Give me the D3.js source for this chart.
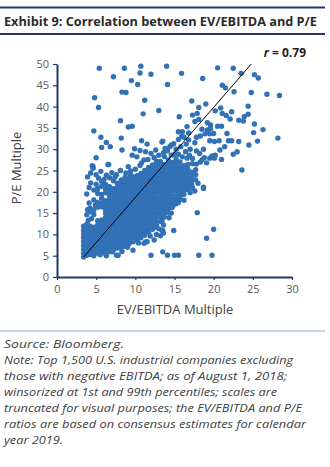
<!DOCTYPE html>
<html><head><meta charset="utf-8">
<script src="https://cdn.jsdelivr.net/npm/d3@7"></script>
<style>
html,body{margin:0;padding:0;background:#fff;}
svg{display:block;}
</style></head>
<body>
<script>
// ---- data ----
const title = "Exhibit 9: Correlation between EV/EBITDA and P/E";
const xTicks = [0, 5, 10, 15, 20, 25, 30];
const yTicks = [0, 5, 10, 15, 20, 25, 30, 35, 40, 45, 50];
const xLabel = "EV/EBITDA Multiple";
const yLabel = "P/E Multiple";
const rLabel = "0.79";
const fitLine = [[3.4, 4.7], [24.8, 50]];

// dense cloud, listed by EV/EBITDA column: [x, [P/E values]]
const denseCloud = [
  [3.4, [4.7, 5.6, 6.5, 7.4, 8.3, 9.2, 10.1, 11.0, 11.9]],
  [3.8, [5.1, 6.0, 7.0, 7.9, 8.8, 9.7, 10.6, 11.5, 12.4, 14.6]],
  [4.2, [5.3, 6.3, 7.2, 8.1, 9.1, 10.0, 11.0, 12.0, 15.3, 16.2]],
  [4.7, [5.0, 6.0, 6.9, 7.9, 8.8, 9.8, 10.7, 11.7, 14.7, 15.8, 18.1, 20.4]],
  [5.2, [5.6, 6.5, 7.5, 8.4, 9.4, 10.3, 11.3, 12.2, 13.2, 16.4, 17.5, 19.6, 20.8]],
  [5.7, [5.8, 6.8, 7.7, 8.7, 9.6, 10.6, 11.5, 12.5, 13.4, 16.5, 17.4, 18.5, 19.4, 21.3, 22.4]],
  [6.2, [5.4, 6.3, 7.3, 8.2, 9.2, 10.1, 11.1, 12.0, 13.0, 13.9, 14.9, 15.8, 16.9, 17.9, 19.8, 20.7, 21.7]],
  [6.7, [5.9, 6.9, 7.8, 8.8, 9.7, 10.7, 11.6, 12.6, 13.5, 14.5, 15.4, 16.4, 17.3, 18.3, 19.2, 20.2, 21.2, 23.3]],
  [7.2, [6.4, 7.4, 8.3, 9.3, 10.2, 11.2, 12.1, 13.1, 14.0, 15.0, 15.9, 16.9, 17.8, 18.8, 19.7, 20.7, 22.6]],
  [7.7, [6.8, 7.8, 8.7, 9.7, 10.6, 11.6, 12.5, 13.5, 14.4, 15.4, 16.3, 17.3, 18.2, 19.2, 20.1, 21.1, 22.0]],
  [8.2, [6.7, 7.6, 8.6, 9.5, 10.5, 11.4, 12.4, 13.3, 14.3, 15.2, 16.2, 17.1, 18.1, 19.0, 20.0, 20.9, 21.9, 22.8]],
  [8.7, [7.2, 8.2, 9.1, 10.1, 11.0, 12.0, 12.9, 13.9, 14.8, 15.8, 16.7, 17.7, 18.6, 19.6, 20.5, 21.5, 22.4, 23.4]],
  [9.2, [7.8, 8.7, 9.7, 10.6, 11.6, 12.5, 13.5, 14.4, 15.4, 16.3, 17.3, 18.2, 19.2, 20.1, 21.1, 22.0, 23.0]],
  [9.7, [8.3, 9.3, 10.2, 11.2, 12.1, 13.1, 14.0, 15.0, 15.9, 16.9, 17.8, 18.8, 19.7, 20.7, 21.6, 22.6, 23.5]],
  [10.2, [8.6, 9.6, 10.5, 11.5, 12.4, 13.4, 14.3, 15.3, 16.2, 17.2, 18.1, 19.1, 20.0, 21.0, 21.9, 22.9, 23.8]],
  [10.7, [9.2, 10.1, 11.1, 12.0, 13.0, 13.9, 14.9, 15.8, 16.8, 17.7, 18.7, 19.6, 20.6, 21.5, 22.5, 23.4, 24.3]],
  [11.2, [9.8, 10.8, 11.7, 12.7, 13.6, 14.6, 15.5, 16.5, 17.4, 18.4, 19.3, 20.3, 21.2, 22.2, 23.1, 24.1, 25.0]],
  [11.7, [10.5, 11.4, 12.4, 13.3, 14.3, 15.2, 16.2, 17.1, 18.1, 19.0, 20.0, 20.9, 21.9, 22.8, 23.8, 24.7, 25.7]],
  [12.2, [11.2, 12.2, 13.1, 14.1, 15.0, 16.0, 16.9, 17.9, 18.8, 19.8, 20.7, 21.7, 22.6, 23.6, 24.5, 25.4, 26.3]],
  [12.7, [12.1, 13.0, 14.0, 14.9, 15.9, 16.8, 17.8, 18.7, 19.7, 20.6, 21.6, 22.5, 23.5, 24.4, 25.3, 26.2, 27.1]],
  [13.2, [13.0, 14.0, 14.9, 15.9, 16.8, 17.8, 18.7, 19.7, 20.6, 21.6, 22.5, 23.5, 24.4, 25.4, 26.2, 27.1]],
  [13.7, [14.1, 15.0, 16.0, 16.9, 17.9, 18.8, 19.8, 20.7, 21.7, 22.6, 23.6, 24.5, 25.5, 26.4, 28.3]],
  [14.2, [15.2, 16.1, 17.1, 18.0, 19.0, 19.9, 20.9, 21.8, 22.8, 23.7, 24.7, 25.6, 26.5, 27.5]],
  [14.7, [16.3, 17.2, 18.2, 19.1, 20.1, 21.0, 22.0, 22.9, 23.9, 24.8, 25.8, 26.9]],
  [15.2, [17.2, 18.2, 19.1, 20.1, 21.0, 22.0, 22.9, 23.9, 24.8, 25.8, 26.7, 27.7]],
  [15.7, [18.3, 19.2, 20.2, 21.1, 22.1, 23.0, 24.0, 24.9, 25.9, 27.0]],
  [16.2, [19.4, 20.3, 21.3, 22.2, 23.2, 24.1, 25.1, 26.1]],
  [16.7, [20.5, 21.4, 22.4, 23.3, 24.3, 25.3, 26.4]],
  [17.2, [21.6, 22.5, 23.5, 24.6]],
  [17.7, [22.8, 24.0, 25.2]]
];

// scattered companies around the edges of the cloud: [EV/EBITDA, P/E]
const edgePoints = [
  [4.3, 24.4], [5.0, 24.0], [5.6, 24.8], [6.3, 23.9], [7.0, 24.5], [7.6, 24.0], [8.1, 25.0], [8.8, 24.4],
  [9.4, 24.9], [10.0, 25.3], [10.6, 26.2], [11.6, 27.6], [12.4, 28.0], [5.3, 23.2], [3.9, 23.5], [4.1, 21.0],
  [3.8, 19.5], [4.3, 22.1], [4.1, 17.4], [3.9, 15.8], [4.5, 26.1], [4.6, 25.5], [6.6, 26.4], [12.1, 25.9],
  [10.8, 26.8], [11.3, 29.4], [13.0, 28.6], [13.6, 29.2], [14.1, 29.6], [14.6, 28.6], [15.0, 28.8], [15.5, 28.8],
  [16.0, 28.2], [16.4, 29.4], [16.9, 28.6], [17.3, 26.6], [17.8, 26.5], [18.3, 27.0], [15.2, 30.0], [15.8, 30.6],
  [16.5, 31.2], [17.0, 30.0], [14.4, 30.6], [13.8, 30.2], [12.6, 29.8], [12.0, 29.0], [15.9, 33.0], [16.8, 33.8],
  [15.5, 32.3], [14.9, 31.3], [18.2, 29.0], [18.8, 28.0], [17.6, 31.5], [4.0, 13.3], [4.4, 13.7], [5.0, 21.8],
  [6.0, 22.9], [7.4, 23.4], [9.4, 23.9], [4.9, 16.9],
  [12.7, 11.7], [13.4, 11.0], [13.0, 11.3], [13.6, 12.2], [13.6, 10.3], [12.4, 13.4], [12.6, 11.8], [12.7, 10.0],
  [12.4, 8.7], [11.3, 8.2], [11.5, 8.3], [11.1, 7.9], [9.7, 6.3], [5.5, 5.2], [7.6, 5.1], [7.8, 5.1],
  [12.0, 5.1], [13.5, 5.9], [14.1, 5.1], [15.0, 5.1], [15.5, 5.1], [18.1, 5.1], [19.8, 5.1], [17.9, 15.1],
  [20.0, 11.2], [19.1, 9.1], [14.9, 10.9], [13.4, 13.2], [13.5, 10.9], [13.2, 9.7], [14.8, 16.7], [14.0, 16.4],
  [15.5, 17.5], [16.2, 18.0], [17.0, 19.8], [17.6, 20.2], [18.0, 22.0], [10.4, 8.0], [9.0, 7.0], [8.3, 6.0],
  [7.1, 5.9], [6.3, 5.0], [11.9, 9.6], [14.3, 13.9], [14.6, 15.0], [18.7, 21.1], [17.3, 20.9], [18.7, 20.8]
];

// high-multiple companies
const outliers = [
  [5.4, 49.0], [8.6, 49.0], [10.7, 49.5], [14.0, 49.5], [7.2, 47.0], [10.6, 47.9], [12.0, 47.6], [9.5, 46.1],
  [10.3, 45.2], [14.1, 45.2], [8.3, 43.4], [8.8, 43.3], [4.8, 42.1], [11.2, 41.5], [5.3, 39.8], [13.0, 39.1],
  [11.0, 38.3], [8.1, 36.7], [9.1, 35.2], [9.6, 35.4], [4.7, 34.3], [5.6, 32.8], [8.2, 32.6], [6.3, 31.6],
  [10.8, 32.0], [11.5, 31.2], [13.4, 31.7], [5.7, 30.4], [6.8, 30.6], [8.3, 29.8], [9.9, 30.1], [10.6, 29.7],
  [9.6, 28.6], [10.2, 28.2], [5.0, 28.0], [11.1, 27.5], [9.1, 25.9], [6.5, 26.4], [4.6, 25.9],
  [20.5, 49.1], [22.5, 49.0], [23.5, 47.8], [15.9, 47.8], [18.6, 46.6], [25.2, 47.5], [25.7, 46.7], [21.1, 45.0],
  [21.5, 44.4], [22.6, 43.5], [24.8, 43.3], [26.8, 42.9], [28.4, 42.6], [17.2, 41.3], [19.0, 40.6], [18.1, 39.8],
  [24.4, 40.1], [20.9, 39.7], [20.2, 39.0], [15.6, 37.6], [17.3, 38.0], [17.9, 38.4], [21.1, 38.4], [21.6, 37.9],
  [22.1, 37.1], [22.3, 38.8], [23.2, 36.8], [23.9, 37.6], [24.4, 38.2], [23.8, 36.6], [17.6, 36.5], [18.1, 37.0],
  [19.2, 36.2], [19.6, 35.7], [20.5, 35.4], [21.0, 35.4], [25.2, 35.9], [18.5, 34.7], [19.2, 34.5], [19.6, 34.8],
  [16.6, 35.3], [16.0, 34.1], [15.5, 34.1], [26.3, 34.6], [25.1, 33.9], [21.7, 33.7], [18.9, 33.6], [19.5, 33.6],
  [20.0, 33.7], [16.2, 32.8], [16.8, 32.2], [17.8, 32.8], [18.3, 33.1], [28.2, 32.6], [13.5, 31.9], [19.5, 32.0],
  [20.1, 31.8], [20.7, 32.0], [21.9, 32.0], [22.3, 32.0], [23.2, 31.8], [25.6, 31.9], [24.5, 31.0], [14.6, 31.0],
  [21.4, 30.6], [20.8, 29.8], [18.7, 30.0], [17.8, 29.6], [23.0, 29.4], [22.5, 28.8], [19.8, 28.4], [20.2, 28.6],
  [19.5, 27.9], [20.1, 27.9], [21.0, 27.6], [18.5, 27.5], [19.1, 26.8], [17.3, 27.8], [16.6, 27.9], [23.6, 25.1]
];

const notes = [
  "Source: Bloomberg.",
  "Note: Top 1,500 U.S. industrial companies excluding",
  "those with negative EBITDA; as of August 1, 2018;",
  "winsorized at 1st and 99th percentiles; scales are",
  "truncated for visual purposes; the EV/EBITDA and P/E",
  "ratios are based on consensus estimates for calendar",
  "year 2019."
];
const noteWidths = [120, 289, 283, 273, 298, 302, 59];

// ---- drawing ----
const W = 330, H = 467;
const navy = "#1f3864", dot = "#3171b6", txt = "#404040";
const font = "'Open Sans', 'DejaVu Sans', sans-serif";

const svg = d3.select("body").append("svg").attr("width", W).attr("height", H);

// header rules and title
svg.append("line").attr("x1", 0).attr("x2", 325).attr("y1", 7.5).attr("y2", 7.5)
  .attr("stroke", navy).attr("stroke-width", 2);
svg.append("line").attr("x1", 0).attr("x2", 325).attr("y1", 34).attr("y2", 34)
  .attr("stroke", navy).attr("stroke-width", 2);
svg.append("text").attr("x", 4).attr("y", 26).text(title)
  .attr("font-family", font).attr("font-weight", "bold").attr("font-size", 12.5)
  .attr("fill", "#2a2a2a").attr("textLength", 313).attr("lengthAdjust", "spacingAndGlyphs");

const x = d3.scaleLinear().domain([0, 30]).range([57, 292]);
const y = d3.scaleLinear().domain([0, 50]).range([277, 64]);

// points
const allPoints = [];
denseCloud.forEach(([xv, ys]) => ys.forEach(yv => allPoints.push([xv, yv])));
edgePoints.forEach(p => allPoints.push(p));
outliers.forEach(p => allPoints.push(p));

svg.append("g").selectAll("circle").data(allPoints).join("circle")
  .attr("cx", d => x(d[0])).attr("cy", d => y(d[1])).attr("r", 2.7)
  .attr("fill", dot);

// fit line
svg.append("line")
  .attr("x1", x(fitLine[0][0])).attr("y1", y(fitLine[0][1]))
  .attr("x2", x(fitLine[1][0])).attr("y2", y(fitLine[1][1]))
  .attr("stroke", "#000").attr("stroke-width", 1);

// axes
const gx = svg.append("g").attr("transform", `translate(0,${y(0)})`)
  .call(d3.axisBottom(x).tickValues(xTicks).tickSize(3).tickSizeOuter(0).tickPadding(5));
const gy = svg.append("g").attr("transform", `translate(${x(0)},0)`)
  .call(d3.axisLeft(y).tickValues(yTicks).tickSize(4).tickSizeOuter(0).tickPadding(4));
[gx, gy].forEach(g => {
  g.select(".domain").attr("stroke", navy).attr("stroke-width", 2);
  g.selectAll(".tick line").attr("stroke", navy).attr("stroke-width", 1.2);
  g.selectAll(".tick text").attr("font-family", font).attr("font-size", 11).attr("fill", "#595959");
});

svg.append("text").attr("x", 175).attr("y", 314).attr("text-anchor", "middle").text(xLabel)
  .attr("font-family", font).attr("font-size", 13).attr("fill", txt);
svg.append("text").attr("transform", "translate(21,168) rotate(-90)").attr("text-anchor", "middle").text(yLabel)
  .attr("font-family", font).attr("font-size", 13).attr("fill", txt);

// r label
const rt = svg.append("text").attr("x", 306).attr("y", 57).attr("text-anchor", "end")
  .attr("font-family", font).attr("font-weight", "bold").attr("font-size", 12).attr("fill", "#222");
rt.append("tspan").attr("font-style", "italic").text("r");
rt.append("tspan").text(" = " + rLabel);

// footer
svg.append("line").attr("x1", 0).attr("x2", 325).attr("y1", 331).attr("y2", 331)
  .attr("stroke", "#8eaadb").attr("stroke-width", 1);
svg.append("g").selectAll("text").data(notes).join("text")
  .attr("x", 4).attr("y", (d, i) => 348 + i * 16).text(d => d)
  .attr("textLength", (d, i) => noteWidths[i]).attr("lengthAdjust", "spacingAndGlyphs")
  .attr("font-family", font).attr("font-style", "italic").attr("font-size", 11).attr("fill", txt);
</script>
</body></html>
